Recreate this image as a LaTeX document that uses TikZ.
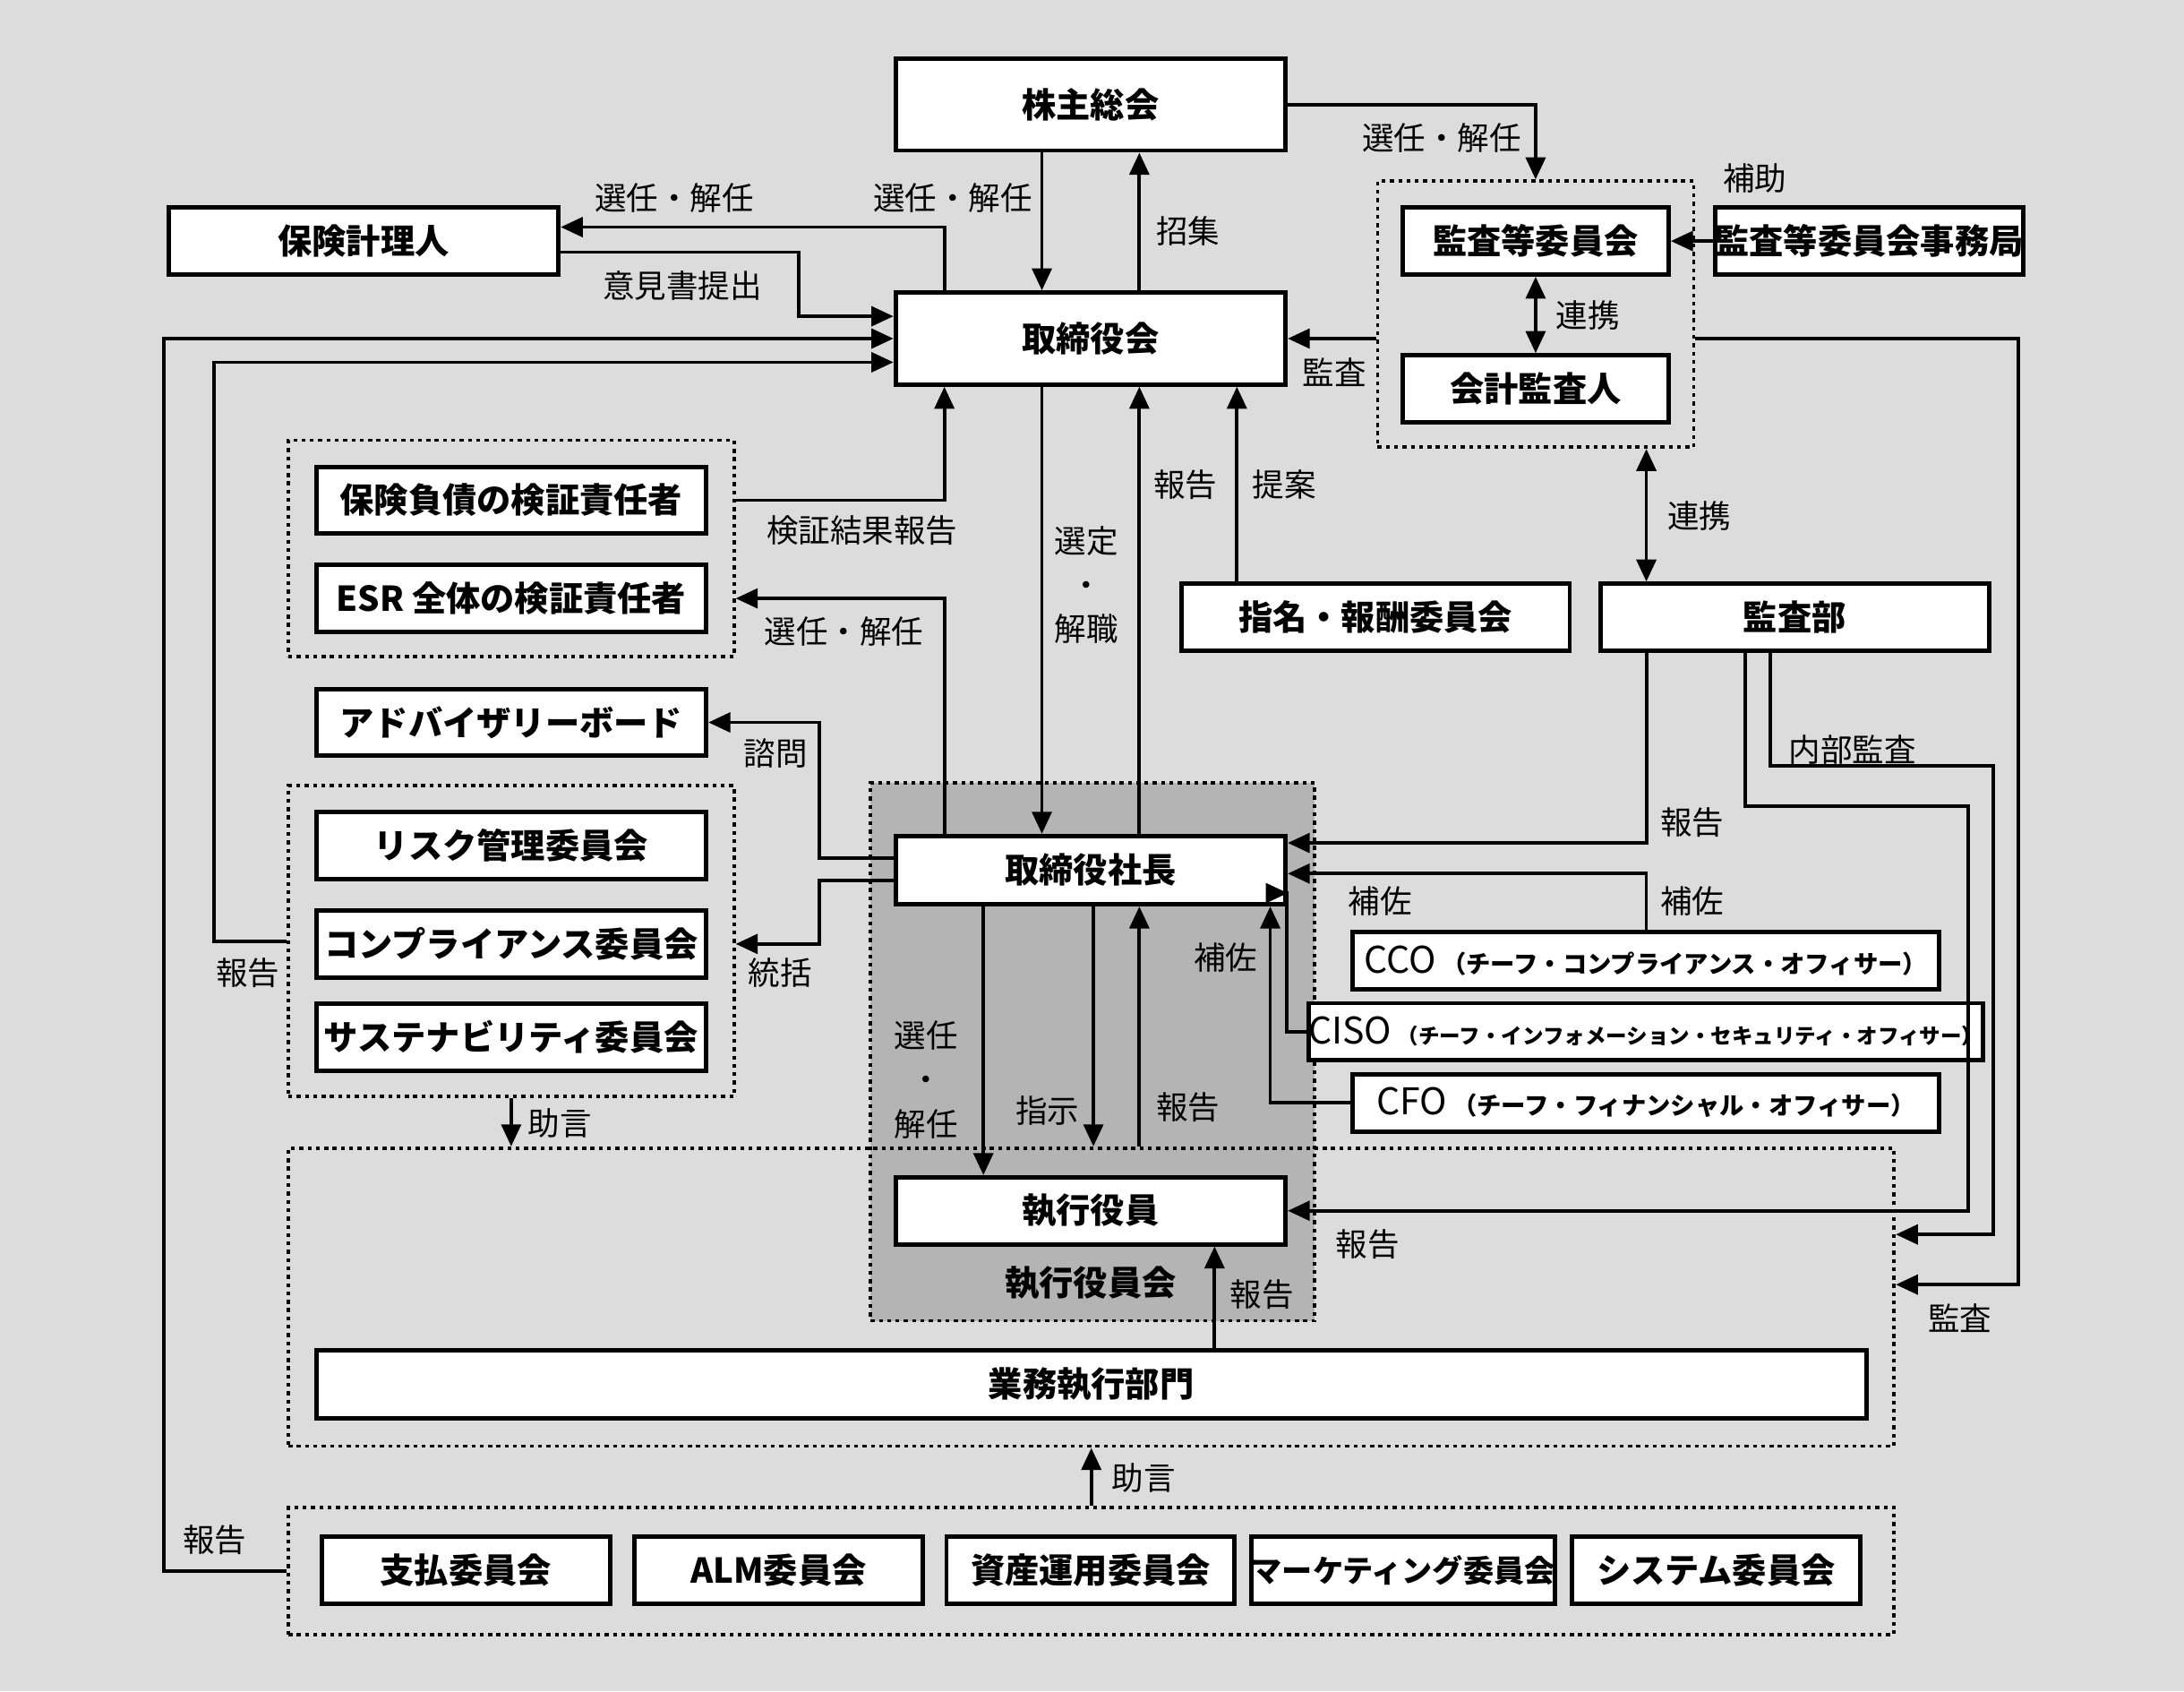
\documentclass[tikz,border=0pt]{standalone}
\usepackage{fontspec}
\setmainfont{Noto Sans CJK JP}
\usetikzlibrary{arrows.meta,positioning,calc}
\definecolor{bgc}{HTML}{DCDCDC}
\definecolor{execc}{HTML}{B4B4B4}
\tikzset{
  box/.style={draw, fill=white, line width=1.8pt, inner sep=0pt, font=\fontsize{14}{16}\selectfont\bfseries, minimum width=5.6cm, minimum height=0.96cm},
  grp/.style={draw, line width=1.4pt, dash pattern=on 1.6pt off 1.8pt, inner sep=0pt},
  arr/.style={line width=1.4pt, -{Triangle[length=9pt,width=8pt]}},
  biarr/.style={line width=1.4pt, {Triangle[length=9pt,width=8pt]}-{Triangle[length=9pt,width=8pt]}},
  lab/.style={font=\fontsize{13}{15}\selectfont, inner sep=1pt, align=center}
}
\begin{document}
\begin{tikzpicture}[x=0.02cm, y=-0.02cm]
    \fill[bgc] (0,0) rectangle (1568,1214);
    \useasboundingbox (0,0) rectangle (1568,1214);

    % Groups
    \node[grp, fill=execc, minimum width=6.38cm, minimum height=7.72cm] (execgrp) at (784.5,755) {};
    \node[grp, minimum width=23.06cm, minimum height=4.28cm] (big) at (783.5,931) {};
    \node[grp, minimum width=23.06cm, minimum height=1.82cm] (iinkai) at (783.5,1127.5) {};
    \node[grp, minimum width=4.54cm, minimum height=3.82cm] (audit) at (1102.5,225.5) {};
    \node[grp, minimum width=6.4cm, minimum height=3.1cm] (verify) at (367,393.5) {};
    \node[grp, minimum width=6.4cm, minimum height=4.46cm] (comm) at (367,675.5) {};
    \node[font=\fontsize{14}{16}\selectfont\bfseries] (execlab) at (783,921) {執行役員会};

    % Boxes
    \node[box, minimum height=1.32cm] (kabu) at (783,75) {株主総会};
    \node[box] (actuary) at (261,173) {保険計理人};
    \node[box, minimum height=1.32cm] (board) at (783,243) {取締役会};
    \node[box, minimum width=3.82cm] (kansa) at (1102.5,173) {監査等委員会};
    \node[box, minimum width=3.82cm] (kaikei) at (1102.5,279) {会計監査人};
    \node[box, minimum width=4.16cm] (jimu) at (1342,173) {監査等委員会事務局};
    \node[box] (liab) at (367,359) {保険負債の検証責任者};
    \node[box] (esr) at (367,429.5) {ESR 全体の検証責任者};
    \node[box, minimum width=5.58cm] (shimei) at (987.5,443) {指名・報酬委員会};
    \node[box, minimum width=5.58cm] (kansabu) at (1288.5,443) {監査部};
    \node[box] (advisory) at (367,518.5) {アドバイザリーボード};
    \node[box] (risk) at (367,607) {リスク管理委員会};
    \node[box] (compl) at (367,677.5) {コンプライアンス委員会};
    \node[box] (sustain) at (367,744.5) {サステナビリティ委員会};
    \node[box, minimum height=0.98cm] (president) at (783,624.5) {取締役社長};
    \node[box, minimum width=8.42cm, minimum height=0.82cm] (cco) at (1181.5,689.5) {{\fontsize{15}{16}\selectfont\mdseries CCO}\,{\fontsize{10}{12}\selectfont（チーフ・コンプライアンス・オフィサー）}};
    \node[box, minimum width=8.42cm, minimum height=0.82cm] (ciso) at (1181.5,740.5) {{\fontsize{15}{16}\selectfont\mdseries CISO}\,{\fontsize{8.6}{12}\selectfont（チーフ・インフォメーション・セキュリティ・オフィサー）}};
    \node[box, minimum width=8.42cm, minimum height=0.82cm] (cfo) at (1181.5,791.5) {{\fontsize{15}{16}\selectfont\mdseries CFO}\,{\fontsize{10}{12}\selectfont（チーフ・フィナンシャル・オフィサー）}};
    \node[box] (officer) at (783,869) {執行役員};
    \node[box, minimum width=22.26cm, minimum height=0.98cm] (gyomu) at (783.5,993.5) {業務執行部門};
    \node[box, minimum width=4.14cm] (shiharai) at (334.5,1127) {支払委員会};
    \node[box, minimum width=4.14cm] (alm) at (559,1127) {ALM委員会};
    \node[box, minimum width=4.14cm] (shisan) at (783,1127) {資産運用委員会};
    \node[box, minimum width=4.14cm, font=\fontsize{12.5}{16}\selectfont\bfseries] (marketing) at (1007.5,1127) {マーケティング委員会};
    \node[box, minimum width=4.14cm] (system) at (1232,1127) {システム委員会};

    % Connectors
    \draw[arr] ([xshift=-0.7cm]kabu.south) -- ([xshift=-0.7cm]board.north);
    \draw[arr] ([xshift=0.7cm]board.north) -- ([xshift=0.7cm]kabu.south);
    \draw[arr] (kabu.east) -| (audit.north);
    \draw[arr] ([xshift=-2.1cm]board.north) |- ([yshift=0.2cm]actuary.east);
    \draw[arr] ([yshift=-0.16cm]actuary.east) -- ++(171,0) |- ([yshift=0.32cm]board.west);
    \draw[arr] (iinkai.west) -- ++(-88,0) |- (board.west);
    \draw[arr] (comm.west) -- ++(-52,0) |- ([yshift=-0.34cm]board.west);
    \draw[arr] (verify.east |- liab.east) -| ([xshift=-2.1cm]board.south);
    \draw[arr] ([xshift=-2.1cm]president.north) |- (verify.east |- esr.east);
    \draw[arr] ([xshift=-0.7cm]board.south) -- ([xshift=-0.7cm]president.north);
    \draw[arr] ([xshift=0.7cm]president.north) -- ([xshift=0.7cm]board.south);
    \coordinate (p) at ([xshift=-1.99cm]shimei.north);
    \draw[arr] (p) -- (p |- board.south);
    \draw[arr] (audit.west |- board.east) -- (board.east);
    \draw[biarr] (kansa.south) -- (kaikei.north);
    \draw[arr] (jimu.west) -- (kansa.east);
    \coordinate (q) at ([xshift=1.59cm]audit.south);
    \draw[biarr] (q) -- (q |- kansabu.north);
    \draw[arr] (audit.east |- board.east) -- ++(232,0) |- ([yshift=0.18cm]big.east);
    \draw[arr] ([xshift=-2.13cm]kansabu.south) |- ([yshift=0.39cm]president.east);
    \draw[arr] ([xshift=-0.71cm]kansabu.south) -- ++(0,110) -- ++(160,0) |- (officer.east);
    \draw[arr] ([xshift=-0.35cm]kansabu.south) -- ++(0,81) -- ++(160,0) |- ([yshift=0.9cm]big.east);
    \draw[arr] (cco.north -| q) |- ([yshift=-0.05cm]president.east);
    \draw[arr] (ciso.west) -- ++(-14,0) |- ([yshift=-0.33cm]president.east);
    \draw[arr] (cfo.west) -| ([xshift=2.58cm]president.south);
    \draw[arr] ([yshift=0.17cm]president.west) -- ++(-53,0) |- (advisory.east);
    \draw[arr] ([yshift=-0.15cm]president.west) -- ++(-53,0) |- (comm.east |- compl.east);
    \draw[arr] ([xshift=-1.54cm]president.south) -- ([xshift=-1.54cm]officer.north);
    \coordinate (r) at ([xshift=0.04cm]president.south);
    \draw[arr] (r) -- (r |- big.north);
    \coordinate (s) at ([xshift=0.7cm]president.south);
    \draw[arr] (s |- big.north) -- (s);
    \coordinate (t) at ([xshift=1.78cm]officer.south);
    \draw[arr] (t |- gyomu.north) -- (t);
    \draw[arr] (comm.south) -- (comm.south |- big.north);
    \draw[arr] (iinkai.north) -- (big.south);

    % Labels
    \node[lab] (l1) at (1035,99) {選任・解任};
    \node[lab] (l2) at (1260,128) {補助};
    \node[lab] (l3) at (484,142) {選任・解任};
    \node[lab] (l4) at (684,142) {選任・解任};
    \node[lab] (l5) at (853,166) {招集};
    \node[lab] (l6) at (490,205) {意見書提出};
    \node[lab] (l7) at (1140,226) {連携};
    \node[lab] (l8) at (958,267) {監査};
    \node[lab] (l9) at (851,348) {報告};
    \node[lab] (l10) at (922,348) {提案};
    \node[lab] (l11) at (1220,370) {連携};
    \node[lab] (l12) at (619,381) {検証結果報告};
    \node[lab, font=\fontsize{13}{18}\selectfont] (l13) at (780,420) {選定\\・\\解職};
    \node[lab] (l14) at (606,453) {選任・解任};
    \node[lab] (l15) at (1330,538) {内部監査};
    \node[lab] (l16) at (557,541) {諮問};
    \node[lab] (l17) at (1215,590) {報告};
    \node[lab] (l18) at (991,647) {補佐};
    \node[lab] (l19) at (1215,647) {補佐};
    \node[lab] (l20) at (880,687) {補佐};
    \node[lab] (l21) at (178,698) {報告};
    \node[lab] (l22) at (560,698) {統括};
    \node[lab, font=\fontsize{13}{18}\selectfont] (l23) at (665,775) {選任\\・\\解任};
    \node[lab] (l24) at (752,797) {指示};
    \node[lab] (l25) at (853,795) {報告};
    \node[lab] (l26) at (402,806) {助言};
    \node[lab] (l27) at (982,893) {報告};
    \node[lab] (l28) at (906,929) {報告};
    \node[lab] (l29) at (1407,946) {監査};
    \node[lab] (l30) at (821,1061) {助言};
    \node[lab] (l31) at (154,1105) {報告};
\end{tikzpicture}
\end{document}
